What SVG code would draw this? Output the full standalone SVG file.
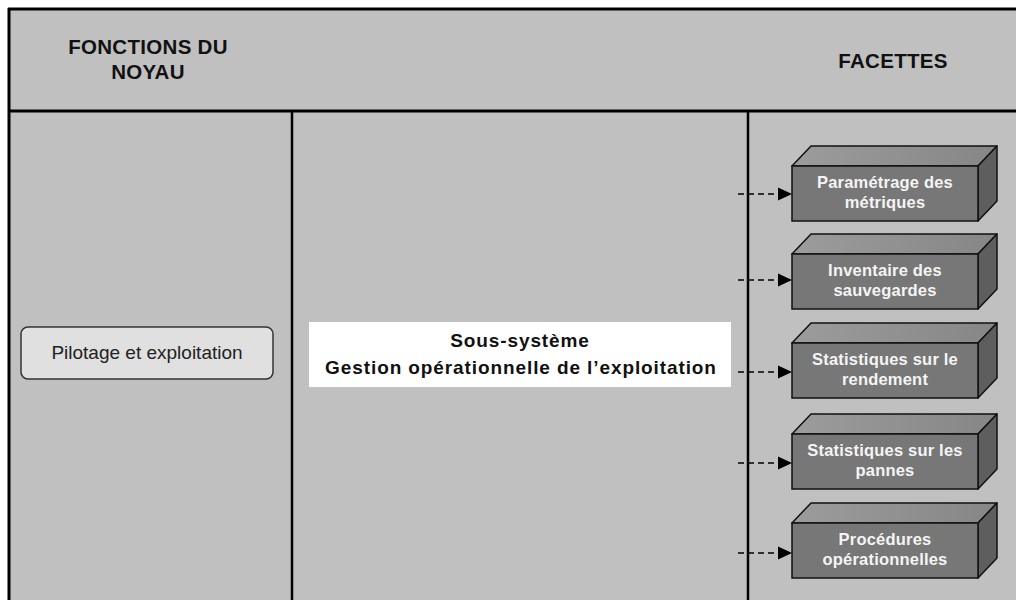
<svg xmlns="http://www.w3.org/2000/svg" width="1016" height="600" viewBox="0 0 1016 600">
  <defs>
    <linearGradient id="topFace" x1="0" y1="0" x2="1" y2="0">
      <stop offset="0" stop-color="#9c9c9c"/>
      <stop offset="1" stop-color="#868686"/>
    </linearGradient>
    <g id="box3d">
      <polygon class="top" points="0,0 19,-20 205,-20 186,0"/>
      <polygon class="side" points="186,0 205,-20 205,35 186,55"/>
      <rect class="front" x="0" y="0" width="186" height="55"/>
    </g>
    <g id="dashArrow">
      <line class="link" x1="0" y1="0" x2="41" y2="0"/>
      <polygon points="40,-6.5 54,0 40,6.5" fill="#000"/>
    </g>
  </defs>
  <style>
    .frame { fill: none; stroke: #000; stroke-width: 3; }
    .divider { stroke: #000; stroke-width: 2.5; }
    .head { font-family: "Liberation Sans", Arial, sans-serif; font-weight: bold; font-size: 20.5px; fill: #111; text-anchor: middle; letter-spacing: 0.3px; }
    .core { fill: #e0e0e0; stroke: #333; stroke-width: 1.5; }
    .coreText { font-family: "Liberation Sans", Arial, sans-serif; font-size: 19px; fill: #222; text-anchor: middle; }
    .subText { font-family: "Liberation Sans", Arial, sans-serif; font-weight: bold; font-size: 19px; fill: #111; text-anchor: middle; letter-spacing: 0.9px; }
    .top { fill: url(#topFace); stroke: #111; stroke-width: 1.5; stroke-linejoin: round; }
    .side { fill: #5e5e5e; stroke: #111; stroke-width: 1.5; stroke-linejoin: round; }
    .front { fill: #777777; stroke: #111; stroke-width: 1.5; }
    .facetText { font-family: "Liberation Sans", Arial, sans-serif; font-weight: bold; font-size: 16.5px; fill: #f4f4f4; text-anchor: middle; letter-spacing: 0.2px; }
    .link { stroke: #000; stroke-width: 1.5; stroke-dasharray: 6 4; fill: none; }
  </style>

  <!-- background and table frame -->
  <rect x="0" y="0" width="1016" height="600" fill="#fff"/>
  <rect x="8" y="8" width="1012" height="600" fill="#c0c0c0"/>
  <line class="frame" x1="8" y1="9" x2="1016" y2="9"/>
  <line class="frame" x1="9" y1="8" x2="9" y2="600"/>
  <line class="frame" x1="8" y1="111" x2="1016" y2="111"/>
  <line class="divider" x1="292" y1="111" x2="292" y2="600"/>
  <line class="divider" x1="748" y1="111" x2="748" y2="600"/>

  <!-- column headers -->
  <g id="header-core">
    <text class="head" x="148" y="54">FONCTIONS DU</text>
    <text class="head" x="148" y="79">NOYAU</text>
  </g>
  <g id="header-facets">
    <text class="head" x="893" y="68">FACETTES</text>
  </g>

  <!-- core function -->
  <g id="node-pilotage">
    <rect class="core" x="21" y="327" width="252" height="52" rx="7" ry="7"/>
    <text class="coreText" x="147" y="359">Pilotage et exploitation</text>
  </g>

  <!-- subsystem label -->
  <g id="node-subsystem">
    <rect x="309" y="322" width="422" height="65" fill="#fff"/>
    <text class="subText" x="520" y="347">Sous-système</text>
    <text class="subText" x="521" y="374">Gestion opérationnelle de l’exploitation</text>
  </g>

  <!-- facets -->
  <g id="facet-parametrage" transform="translate(792,166)">
    <use href="#box3d"/>
    <text class="facetText" x="93" y="22">Paramétrage des</text>
    <text class="facetText" x="93" y="42">métriques</text>
  </g>
  <g id="facet-inventaire" transform="translate(792,254)">
    <use href="#box3d"/>
    <text class="facetText" x="93" y="22">Inventaire des</text>
    <text class="facetText" x="93" y="42">sauvegardes</text>
  </g>
  <g id="facet-rendement" transform="translate(792,343)">
    <use href="#box3d"/>
    <text class="facetText" x="93" y="22">Statistiques sur le</text>
    <text class="facetText" x="93" y="42">rendement</text>
  </g>
  <g id="facet-pannes" transform="translate(792,434)">
    <use href="#box3d"/>
    <text class="facetText" x="93" y="22">Statistiques sur les</text>
    <text class="facetText" x="93" y="42">pannes</text>
  </g>
  <g id="facet-procedures" transform="translate(792,523)">
    <use href="#box3d"/>
    <text class="facetText" x="93" y="22">Procédures</text>
    <text class="facetText" x="93" y="42">opérationnelles</text>
  </g>

  <!-- connectors -->
  <g id="connectors">
    <use href="#dashArrow" transform="translate(738,194)"/>
    <use href="#dashArrow" transform="translate(738,280)"/>
    <use href="#dashArrow" transform="translate(738,372)"/>
    <use href="#dashArrow" transform="translate(738,463)"/>
    <use href="#dashArrow" transform="translate(738,553)"/>
  </g>
</svg>
